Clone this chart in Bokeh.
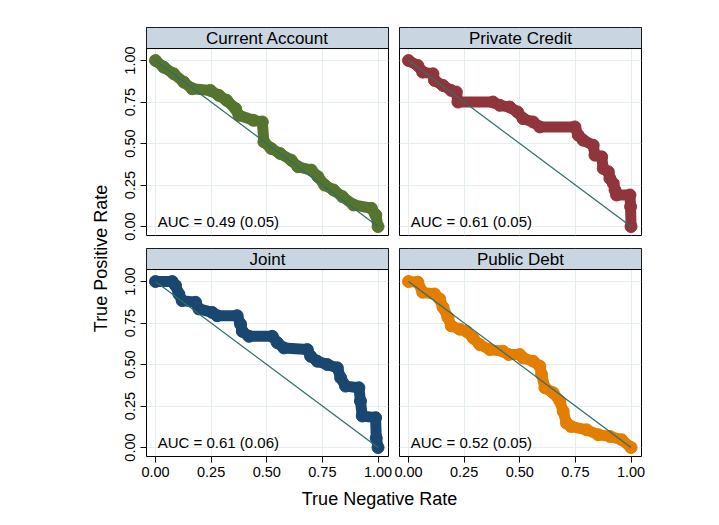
import math
from bokeh.plotting import figure
from bokeh.layouts import row, column
from bokeh.models import Range1d, FixedTicker, Label, BoxAnnotation
from bokeh.embed import file_html
from bokeh.resources import INLINE

# ---------------- data ----------------
TICKS = [0.0, 0.25, 0.5, 0.75, 1.0]
TICK_LABELS = ["0.00", "0.25", "0.50", "0.75", "1.00"]

PANELS = ["Current Account", "Private Credit", "Joint", "Public Debt"]
AUC = [0.49, 0.61, 0.61, 0.52]
AUC_SE = [0.05, 0.05, 0.06, 0.05]
COLORS = ["#55752f", "#90353b", "#1a476f", "#e37e00"]

ca_tnr = [0.0, 0.037, 0.082, 0.127, 0.165, 0.247, 0.285, 0.32, 0.36, 0.375, 0.44, 0.48, 0.487,
          0.52, 0.56, 0.61, 0.64, 0.70, 0.73, 0.76, 0.80, 0.84, 0.89, 0.97, 0.99, 1.0]
ca_tpr = [1.0, 0.96, 0.92, 0.87, 0.83, 0.82, 0.79, 0.76, 0.71, 0.67, 0.64, 0.63, 0.51,
          0.47, 0.44, 0.40, 0.36, 0.34, 0.30, 0.25, 0.22, 0.18, 0.13, 0.11, 0.07, 0.0]

pc_tnr = [0.0, 0.042, 0.064, 0.11, 0.117, 0.155, 0.192, 0.215, 0.222, 0.38, 0.41, 0.455, 0.49,
          0.515, 0.56, 0.59, 0.748, 0.763, 0.785, 0.83, 0.838, 0.868, 0.875, 0.898, 0.905, 0.92,
          0.928, 0.935, 0.995, 0.998, 1.0]
pc_tpr = [1.0, 0.97, 0.93, 0.92, 0.88, 0.85, 0.82, 0.81, 0.75, 0.75, 0.73, 0.72, 0.69,
          0.65, 0.63, 0.60, 0.60, 0.55, 0.52, 0.49, 0.43, 0.42, 0.35, 0.33, 0.29, 0.26,
          0.22, 0.19, 0.19, 0.12, 0.0]

jt_tnr = [0.0, 0.075, 0.09, 0.105, 0.12, 0.18, 0.195, 0.255, 0.277, 0.367, 0.382, 0.39, 0.42,
          0.525, 0.547, 0.577, 0.682, 0.697, 0.727, 0.772, 0.817, 0.832, 0.854, 0.914, 0.921,
          0.929, 0.989, 0.992, 1.0]
jt_tpr = [1.0, 1.0, 0.976, 0.925, 0.885, 0.875, 0.835, 0.814, 0.794, 0.794, 0.744, 0.70, 0.67,
          0.67, 0.632, 0.60, 0.59, 0.55, 0.52, 0.50, 0.48, 0.42, 0.37, 0.36, 0.28,
          0.19, 0.18, 0.056, 0.0]

pd_tnr = [0.0, 0.042, 0.064, 0.117, 0.14, 0.155, 0.177, 0.192, 0.23, 0.26, 0.29, 0.32, 0.365,
          0.425, 0.45, 0.50, 0.515, 0.56, 0.59, 0.598, 0.613, 0.65, 0.68, 0.695, 0.71, 0.73,
          0.80, 0.853, 0.905, 0.958, 1.0]
pd_tpr = [1.0, 0.996, 0.935, 0.925, 0.895, 0.845, 0.784, 0.733, 0.713, 0.70, 0.66, 0.62, 0.59,
          0.58, 0.56, 0.56, 0.54, 0.52, 0.49, 0.44, 0.36, 0.33, 0.28, 0.218, 0.147, 0.127,
          0.107, 0.077, 0.067, 0.047, 0.0]

CURVES = [(ca_tnr, ca_tpr), (pc_tnr, pc_tpr), (jt_tnr, jt_tpr), (pd_tnr, pd_tpr)]
REF_X = [0.0, 1.0]
REF_Y = [1.0, 0.0]

X_TITLE = "True Negative Rate"
Y_TITLE = "True Positive Rate"

# ---------------- style / layout ----------------
FONT = "Liberation Sans"
X_START, X_END = -0.0404, 1.047
Y_START, Y_END = -0.054, 1.199
HDR_BOTTOM = 1.0723
HDR_FILL = "#c9d6e1"
GRID = "#e4edf0"
REF_COLOR = "#2f6f6a"


def make_panel(i, width, height, mb_left, mb_right, mb_top, mb_bottom, show_x, show_y):
    p = figure(width=width, height=height, output_backend="svg", toolbar_location=None,
               x_range=Range1d(X_START, X_END), y_range=Range1d(Y_START, Y_END),
               x_axis_location="below" if show_x else None,
               y_axis_location="left" if show_y else None,
               min_border_left=mb_left, min_border_right=mb_right,
               min_border_top=mb_top, min_border_bottom=mb_bottom,
               background_fill_color="white", border_fill_color="white")
    p.outline_line_color = "black"
    p.outline_line_width = 1
    for g in p.xgrid:
        g.ticker = FixedTicker(ticks=TICKS)
    for g in p.ygrid:
        g.ticker = FixedTicker(ticks=TICKS)
    p.grid.grid_line_color = GRID
    p.grid.grid_line_width = 1
    for ax in p.axis:
        ax.ticker = FixedTicker(ticks=TICKS)
        ax.major_label_overrides = {t: l for t, l in zip(TICKS, TICK_LABELS)}
        ax.axis_line_color = None
        ax.major_tick_out = 6
        ax.major_tick_in = 0
        ax.major_tick_line_color = "black"
        ax.minor_tick_line_color = None
        ax.major_label_text_font = FONT
        ax.major_label_text_font_size = "14.5px"
        ax.major_label_text_color = "black"
        ax.major_label_standoff = 4
    if show_y:
        p.yaxis.major_label_orientation = "vertical"
        p.yaxis.major_label_standoff = 5

    tnr, tpr = CURVES[i]
    col = COLORS[i]
    p.line(tnr, tpr, line_color=col, line_width=11, line_join="round", line_cap="round")
    p.scatter(tnr, tpr, size=12, marker="circle", fill_color=col, line_color=col)
    p.line(REF_X, REF_Y, line_color=REF_COLOR, line_width=1.3)

    hdr = BoxAnnotation(bottom=HDR_BOTTOM, fill_color=HDR_FILL, fill_alpha=1.0,
                        line_color="black", line_width=1, line_alpha=1.0)
    p.add_layout(hdr)
    p.add_layout(Label(x=(X_START + X_END) / 2, y=(HDR_BOTTOM + Y_END) / 2, text=PANELS[i],
                       text_align="center", text_baseline="middle", text_font=FONT,
                       text_font_size="17px", text_color="black"))
    p.add_layout(Label(x=0.01, y=0.03, text=f"AUC = {AUC[i]:.2f} ({AUC_SE[i]:.2f})",
                       text_align="left", text_baseline="alphabetic", text_font=FONT,
                       text_font_size="15px", text_color="black"))
    return p


f1 = make_panel(0, 283, 241, 36, 5, 27, 6, False, True)
f2 = make_panel(1, 326, 241, 6, 78, 27, 6, False, False)
f3 = make_panel(2, 283, 245, 36, 5, 7, 30, True, True)
f4 = make_panel(3, 326, 245, 6, 78, 7, 30, True, False)


def blank(width, height):
    b = figure(width=width, height=height, output_backend="svg", toolbar_location=None,
               x_range=Range1d(0, width), y_range=Range1d(0, height),
               x_axis_location=None, y_axis_location=None,
               min_border=0, min_border_left=0, min_border_right=0,
               min_border_top=0, min_border_bottom=0,
               background_fill_color="white", border_fill_color="white")
    b.outline_line_color = None
    b.grid.visible = False
    return b


yt = blank(110, 525)
yt.add_layout(Label(x=100, y=525 - 258, text=Y_TITLE, angle=math.pi / 2,
                    text_align="center", text_baseline="middle", text_font=FONT,
                    text_font_size="18px", text_color="black"))
xt = blank(609, 39)
xt.add_layout(Label(x=379 - 110, y=39 - 12, text=X_TITLE,
                    text_align="center", text_baseline="middle", text_font=FONT,
                    text_font_size="18px", text_color="black"))

layout = row(yt, column(row(f1, f2), row(f3, f4), xt))

open("out.html", "w").write(file_html(layout, INLINE))
